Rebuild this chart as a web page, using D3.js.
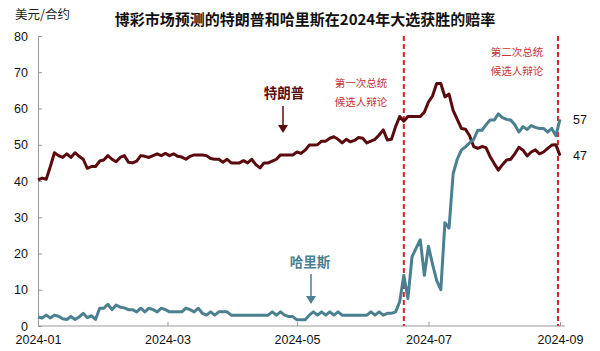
<!DOCTYPE html>
<html><head><meta charset="utf-8">
<script src="https://cdn.jsdelivr.net/npm/d3@7/dist/d3.min.js"></script>
<style>
html,body{margin:0;padding:0;background:#fff;}
svg text{font-family:"Liberation Sans","Noto Sans CJK SC",Arial,sans-serif;}
.cjk{font-family:"Noto Sans CJK SC","Liberation Sans",sans-serif;}
</style></head>
<body><svg id="chart" width="600" height="351" viewBox="0 0 600 351"></svg>
<script>
// ---- data ----
const startDate = new Date(2024, 0, 1);
const endDate = new Date(2024, 8, 12);
const dates = d3.timeDay.range(startDate, endDate, 2); // every 2 days, Jan 1 .. Sep 11

const trump = [
40.3,40.8,40.5,44.0,47.8,47.0,46.5,47.5,46.5,47.8,
46.8,46.0,43.5,44.0,44.0,45.5,45.8,47.0,46.0,45.3,
46.5,47.0,45.2,45.0,45.5,47.0,46.8,46.5,47.0,47.5,
47.0,47.6,47.0,47.5,46.8,46.6,46.0,46.8,47.2,47.2,
47.2,47.0,46.2,46.0,46.0,45.2,46.0,45.0,45.0,45.0,
45.6,45.0,46.0,44.5,43.6,45.0,45.0,45.5,46.0,47.2,
47.2,47.2,47.2,48.0,47.6,48.5,49.9,49.9,50.0,51.0,
51.0,51.8,52.2,51.5,50.5,51.5,50.8,51.2,52.0,51.8,
50.5,51.0,51.5,52.7,54.1,51.3,51.5,55.0,57.8,56.5,
57.8,57.8,57.8,57.8,59.0,61.8,63.5,66.9,66.9,63.2,
64.0,59.5,57.0,54.5,54.3,52.5,49.5,49.0,49.5,49.2,
46.7,44.8,43.0,44.5,45.8,46.0,47.5,49.3,48.5,46.9,
48.0,48.6,47.5,48.0,49.0,49.9,50.0,47.0];

const harris = [
2.5,2.2,3.0,2.2,3.0,2.7,2.0,1.8,2.6,1.8,
2.5,3.5,2.3,2.8,1.8,4.9,4.9,6.0,4.5,5.8,
5.2,5.0,4.5,4.5,3.9,4.9,3.9,4.9,4.5,3.9,
4.9,4.5,3.9,3.9,3.9,3.9,4.9,4.5,3.9,4.9,
3.5,3.0,3.9,3.0,3.9,3.9,3.9,3.0,3.0,3.0,
3.0,3.0,3.0,3.0,3.0,3.0,3.0,3.9,3.0,3.9,
3.0,2.6,2.6,1.7,1.7,1.7,3.0,3.9,3.0,3.9,
3.0,3.9,3.0,3.9,3.0,3.0,3.0,3.0,3.0,3.0,
3.0,3.9,3.0,3.9,3.0,3.5,3.5,3.9,6.7,14.0,
7.6,19.1,21.5,23.8,14.0,22.0,17.0,12.5,10.0,28.5,
27.0,42.0,46.0,48.5,49.4,50.5,51.5,54.0,54.0,55.5,
56.8,56.8,58.5,57.5,57.0,56.8,55.5,53.5,55.0,54.2,
55.3,54.8,54.5,54.5,53.5,54.5,52.5,57.0];

const yTicks = [0,10,20,30,40,50,60,70,80];
const xTickLabels = ['2024-01','2024-03','2024-05','2024-07','2024-09'];
const xTickDates = ['2024-01-01','2024-03-04','2024-05-06','2024-07-09','2024-09-11'];
const debateDates = ['2024-06-27','2024-09-10'];
const debateLabels = [['第一次总统','候选人辩论'],['第二次总统','候选人辩论']];
const seriesNames = ['特朗普','哈里斯'];
const title = '博彩市场预测的特朗普和哈里斯在2024年大选获胜的赔率';
const unit = '美元/合约';

// ---- drawing ----
const parse = d3.timeParse('%Y-%m-%d');
const svg = d3.select('#chart');
const W = 600, H = 351;
const margin = {left:38, right:40, top:36, bottom:25};
const n = Math.min(dates.length, trump.length, harris.length);
const x = d3.scaleTime().domain([startDate, dates[n-1]]).range([margin.left, W - margin.right]);
const y = d3.scaleLinear().domain([0, 80]).range([H - margin.bottom, margin.top]);

const trumpColor = '#5b0b0e';
const harrisColor = '#4a8090';
const red = '#d2232a';

// axes
const yAxis = svg.append('g').attr('transform', `translate(${margin.left},0)`)
  .call(d3.axisLeft(y).tickValues(yTicks).tickSize(-4).tickPadding(10).tickSizeOuter(0));
const xAxis = svg.append('g').attr('transform', `translate(0,${y(0)})`)
  .call(d3.axisBottom(x).tickValues(xTickDates.map(parse)).tickSize(-4).tickPadding(9).tickSizeOuter(0)
    .tickFormat((d,i) => xTickLabels[i]));
[yAxis, xAxis].forEach(g => {
  g.select('.domain').attr('stroke', '#999').attr('stroke-width', 1);
  g.selectAll('.tick line').attr('stroke', '#999');
  g.selectAll('.tick text').attr('fill', '#111').attr('font-size', 12.5)
    .attr('font-family', '"Liberation Sans",Arial,sans-serif');
});
xAxis.selectAll('.tick').filter(d => +d === +startDate).select('line').remove();
xAxis.select('.domain').attr('d', `M${margin.left},0H${x(dates[n-1]) + 5}`);

// debate lines
debateDates.forEach((ds) => {
  const dx = x(parse(ds));
  svg.append('line').attr('x1', dx).attr('x2', dx).attr('y1', y(80)).attr('y2', y(0))
    .attr('stroke', red).attr('stroke-width', 2).attr('stroke-dasharray', '5,3');
});

// lines
const line = d3.line().x((d,i) => x(dates[i])).y(d => y(d)).curve(d3.curveLinear);
svg.append('path').datum(trump.slice(0, n)).attr('d', line).attr('fill', 'none')
  .attr('stroke', trumpColor).attr('stroke-width', 3).attr('stroke-linejoin', 'round');
svg.append('path').datum(harris.slice(0, n)).attr('d', line).attr('fill', 'none')
  .attr('stroke', harrisColor).attr('stroke-width', 3).attr('stroke-linejoin', 'round');

// debate labels
const labelPos = [{x: 361, y: 87}, {x: 517, y: 56}];
debateLabels.forEach((lines, k) => {
  lines.forEach((s, j) => svg.append('text').attr('class', 'cjk').attr('fill', '#c8342f')
    .attr('font-size', 10.5).attr('text-anchor', 'middle')
    .attr('x', labelPos[k].x).attr('y', labelPos[k].y + j * 19).text(s));
});

// series labels + arrows
function arrow(cx, y1, y2, color) {
  svg.append('line').attr('x1', cx).attr('x2', cx).attr('y1', y1).attr('y2', y2 - 6)
    .attr('stroke', color).attr('stroke-width', 1.5);
  svg.append('path').attr('d', `M${cx-5},${y2-8}L${cx+5},${y2-8}L${cx},${y2}Z`).attr('fill', color);
}
svg.append('text').attr('class', 'cjk').attr('x', 284).attr('y', 98).attr('text-anchor', 'middle')
  .attr('font-size', 13.5).attr('font-weight', 'bold').attr('fill', trumpColor).text(seriesNames[0]);
arrow(283, 106, 133, trumpColor);
svg.append('text').attr('class', 'cjk').attr('x', 310).attr('y', 267).attr('text-anchor', 'middle')
  .attr('font-size', 13.5).attr('font-weight', 'bold').attr('fill', harrisColor).text(seriesNames[1]);
arrow(311, 274, 304, harrisColor);

// end labels
const last = n - 1;
[harris[last], trump[last]].forEach(v => {
  svg.append('text').attr('x', 580).attr('y', y(v)).attr('dy', '0.35em')
    .attr('text-anchor', 'middle').attr('font-size', 12.5).attr('fill', '#111')
    .text(d3.format('.0f')(v));
});

// title + unit
svg.append('text').attr('class', 'cjk').attr('x', 305).attr('y', 25).attr('text-anchor', 'middle')
  .attr('font-size', 15).attr('font-weight', 'bold').attr('fill', '#111').text(title);
svg.append('text').attr('class', 'cjk').attr('x', 15).attr('y', 19).attr('font-size', 12.5)
  .attr('fill', '#222').text(unit);
</script></body></html>
